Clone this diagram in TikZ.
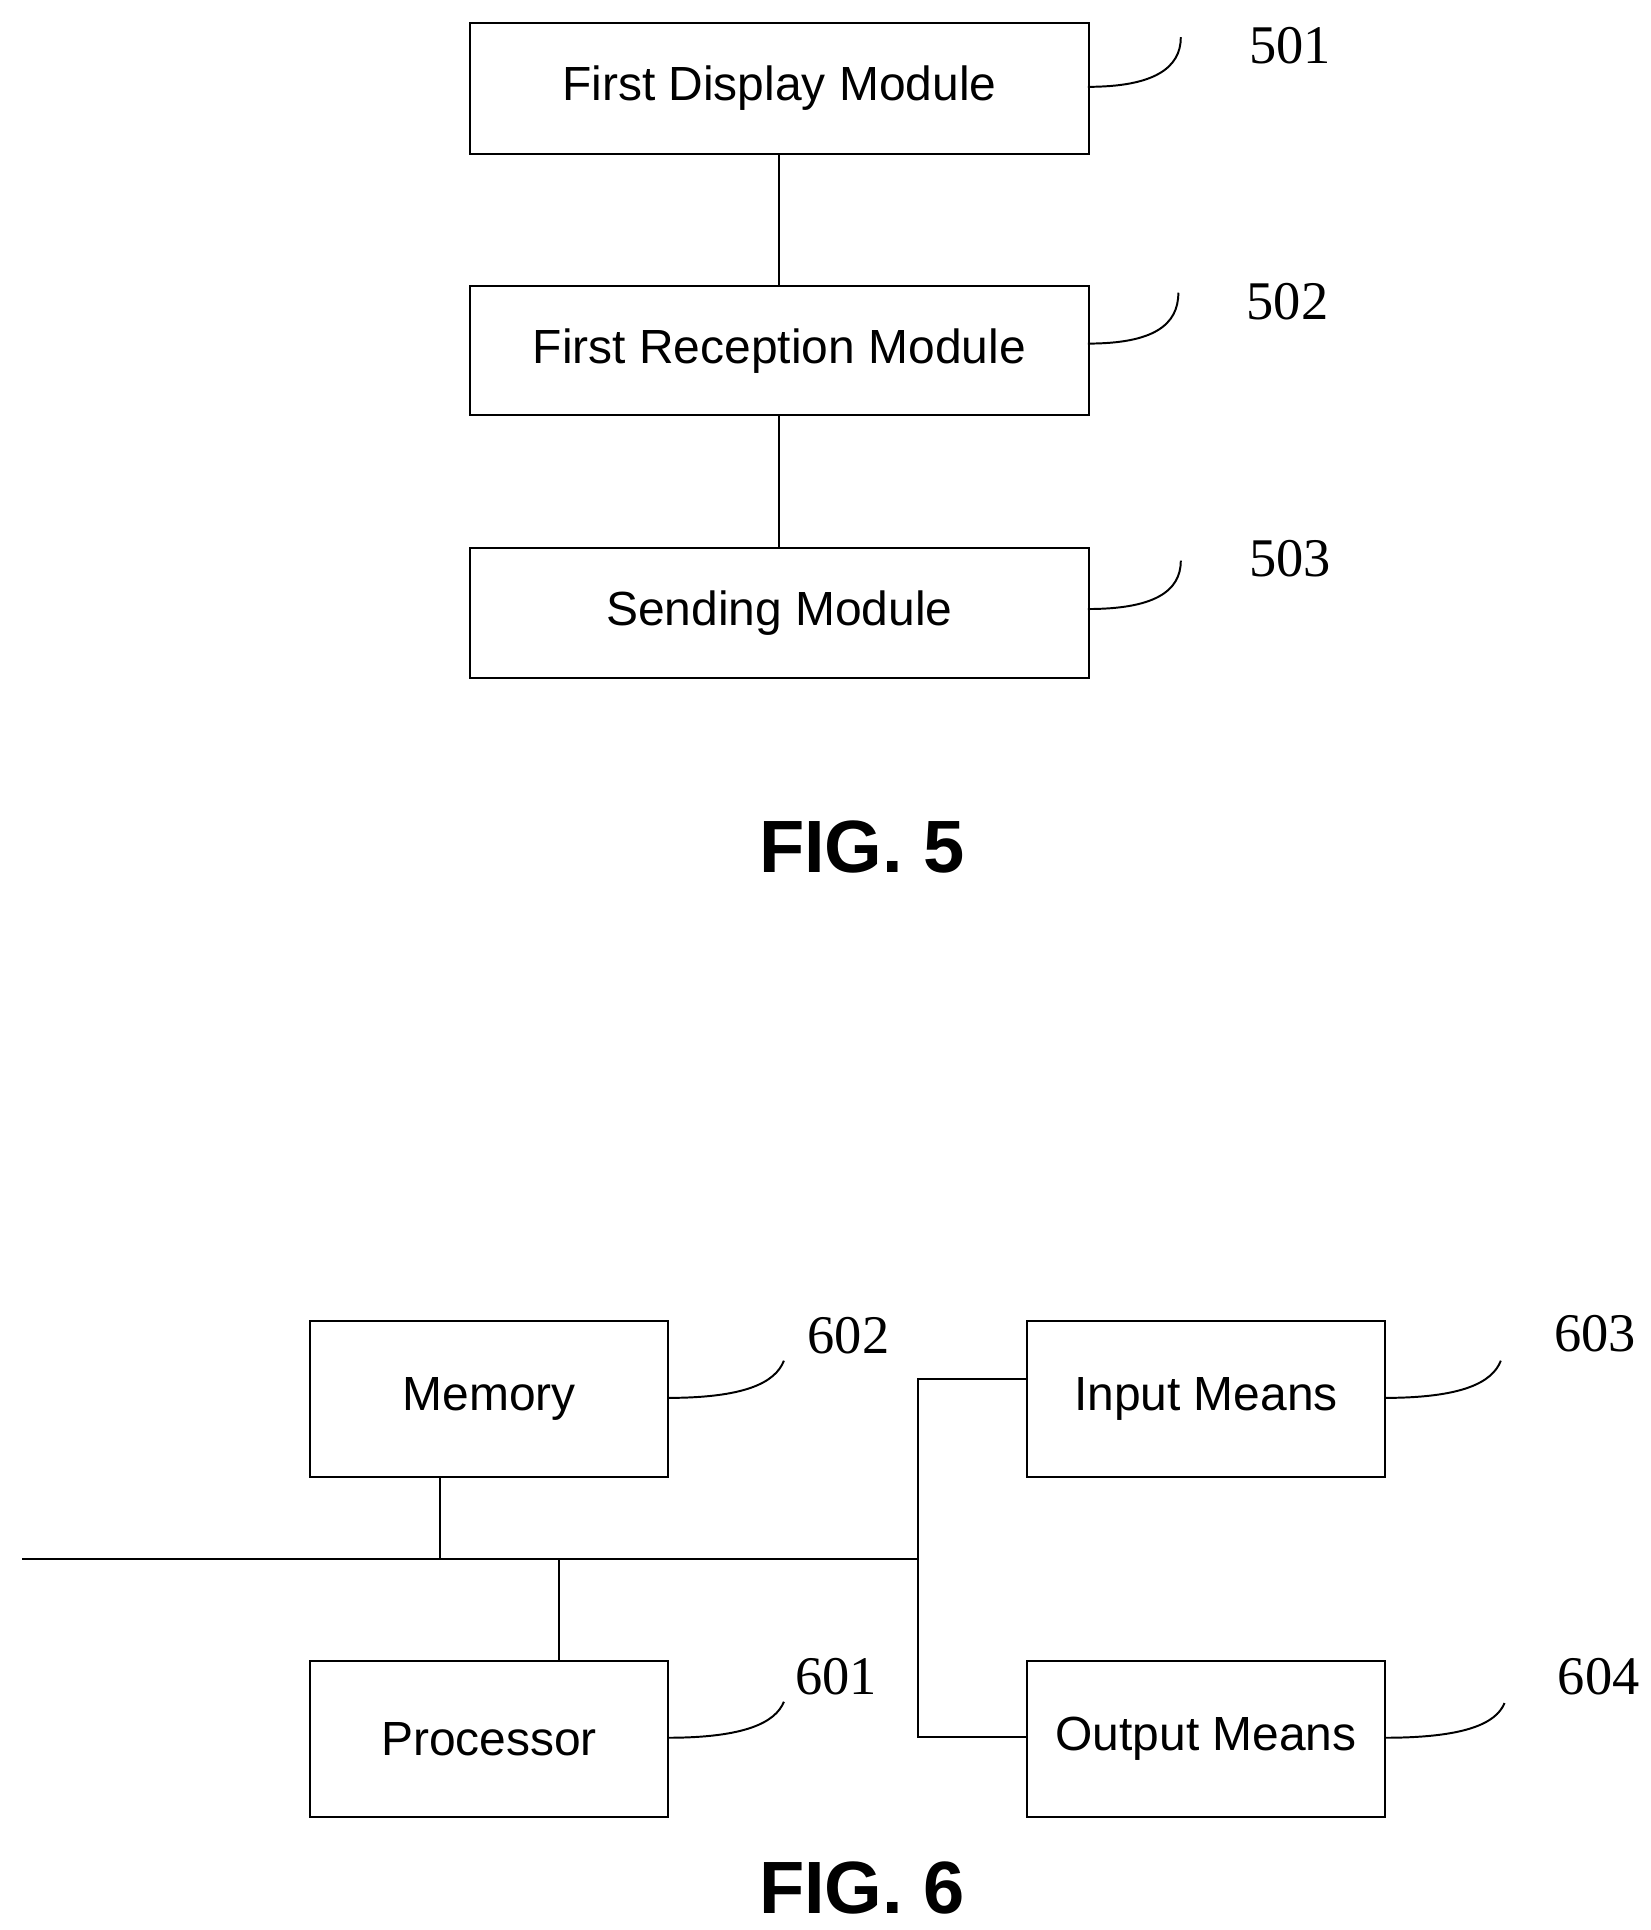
\documentclass[tikz,border=0pt]{standalone}
\usepackage{fontspec}
\setmainfont{Liberation Sans}
\newfontfamily\numfont{Liberation Serif}
\begin{document}
\begin{tikzpicture}[x=0.02cm,y=-0.02cm,
 box/.style={draw,line width=0.9pt,inner sep=0pt,anchor=north west},
 lbl/.style={font=\fontsize{22}{26}\selectfont},
 num/.style={font=\numfont\fontsize{25}{29}\selectfont},
 fig/.style={font=\bfseries\fontsize{34}{38}\selectfont,inner sep=1pt},
 ln/.style={line width=0.9pt}]
\useasboundingbox (0,0) rectangle (1331,1556);
\newcommand\bx[6]{\node[box,minimum width=#3*0.02cm,minimum height=#4*0.02cm] (#5) at (#1,#2) {};
 \node[lbl] (#5t) at (#5.center) {#6};}
\bx{378}{18}{499}{105}{a}{First Display Module}
\bx{378}{230}{499}{104}{b}{First Reception Module}
\bx{378}{441}{499}{105}{c}{Sending Module}
\draw[ln] (a.south) -- (b.north);
\draw[ln] (b.south) -- (c.north);
\node[num] (n501) at (1040,37) {501};
\node[num] (n502) at (1038,243) {502};
\node[num] (n503) at (1040,450) {503};
\coordinate (q1) at (952,30); \coordinate (q2) at (950,236); \coordinate (q3) at (952,452);
\draw[ln] (877,70) .. controls (930,70) and (952,55) .. (q1);
\draw[ln] (877,277) .. controls (930,277) and (950,262) .. (q2);
\draw[ln] (877,491) .. controls (930,491) and (952,477) .. (q3);
\node[fig] (f5) at (695,683) {FIG. 5};
\bx{249}{1064}{289}{126}{mem}{Memory}
\bx{827}{1064}{289}{126}{inp}{Input Means}
\bx{249}{1338}{289}{126}{pro}{Processor}
\bx{827}{1338}{289}{126}{out}{Output Means}
\coordinate (bl) at (18,1257); \coordinate (br) at (740,1257);
\draw[ln] (bl) -- (br);
\draw[ln] (355,1190) -- (355,1257);
\draw[ln] (451,1257) -- (451,1338);
\coordinate (it) at (740,1112); \coordinate (ob) at (740,1400);
\draw[ln] (inp.west |- it) -- (it) -- (ob) -- (out.west |- ob);
\node[num] (n602) at (684,1077) {602};
\node[num] (n603) at (1286,1075) {603};
\node[num] (n601) at (674,1352) {601};
\node[num] (n604) at (1289,1352) {604};
\draw[ln] (538,1127) .. controls (600,1127) and (625,1115) .. (632,1097);
\draw[ln] (1116,1127) .. controls (1178,1127) and (1203,1115) .. (1210,1097);
\draw[ln] (538,1401) .. controls (600,1401) and (625,1389) .. (632,1372);
\draw[ln] (1116,1401) .. controls (1180,1401) and (1206,1390) .. (1213,1373);
\node[fig] (f6) at (695,1522) {FIG. 6};
\end{tikzpicture}
\end{document}
